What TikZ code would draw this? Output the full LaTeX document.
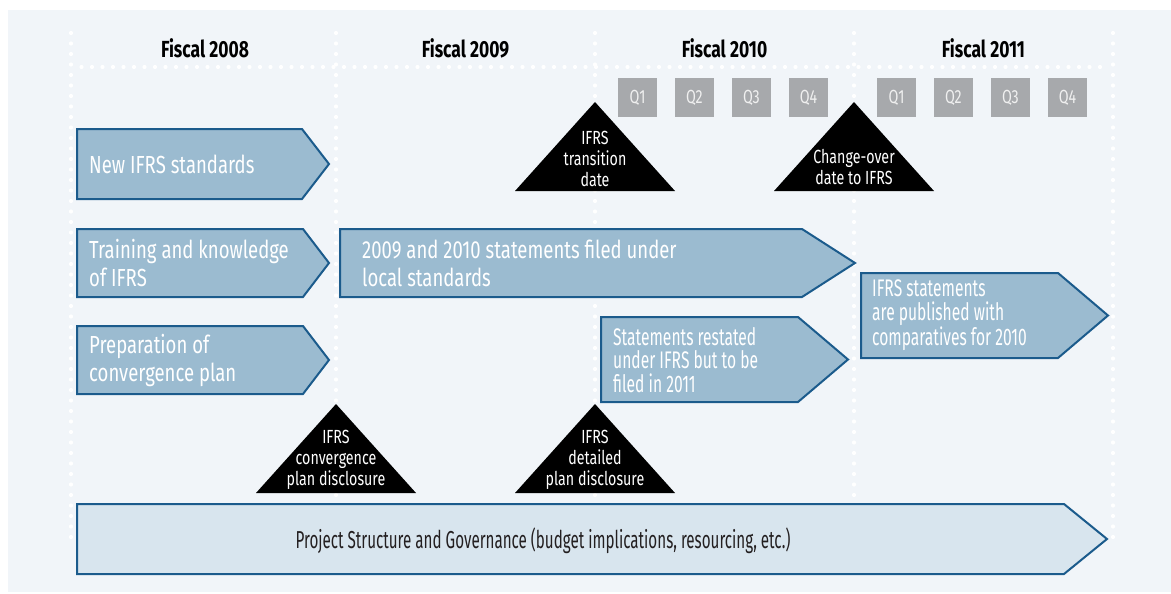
\documentclass[tikz,border=0pt]{standalone}
\usepackage{fontspec}
\setmainfont{Fira Sans}[FakeStretch=0.75]
\newfontfamily\narrowfont{Fira Sans}[FakeStretch=0.65]
\newfontfamily\slimfont{Fira Sans}[FakeStretch=0.62]
\usepackage{tikz}

\definecolor{panel}{HTML}{F1F5F9}
\definecolor{ifrsblue}{HTML}{9BBBD0}
\definecolor{ifrsline}{HTML}{1B5B8C}
\definecolor{govfill}{HTML}{D8E5EE}
\definecolor{qgray}{HTML}{A7A9AC}
\definecolor{darktext}{HTML}{231F20}

% pointed bar: left, top, right, bottom, depth of the point, fill
\newcommand{\pointbox}[6]{%
  \draw[plank, fill=#6] (#1,#2) -- (#3-#5,#2) -- (#3,{(#2+#4)/2})
    -- (#3-#5,#4) -- (#1,#4) -- cycle;}
% black milestone triangle hanging from its apex
\newcommand{\milestone}[2]{%
  \fill[black] (#1,#2) -- (#1+80,#2+89) -- (#1-80,#2+89) -- cycle;}

\begin{document}
\begin{tikzpicture}[x=1pt, y=-1pt,
                    line join=miter]
  \tikzstyle{plank}=[draw=ifrsline,
                     line width=2pt]
  \tikzstyle{boxtext}=[anchor=west,
                       align=left,
                       inner sep=0pt,
                       text=white,
                       font=\fontsize{24.7}{28}\selectfont]
  \tikzstyle{year}=[inner sep=0pt,
                    font=\bfseries\fontsize{23.3}{28}\selectfont]
  \tikzstyle{quarter}=[fill=qgray,
                       minimum size=39pt,
                       inner sep=0pt,
                       text=white!94!black,
                       font=\fontsize{19}{21}\selectfont]
  \tikzstyle{flag}=[align=center,
                    inner sep=0pt,
                    text=white,
                    font=\fontsize{19}{21}\selectfont]

  \useasboundingbox (0,0) rectangle (1171,594);
  \fill[white] (0,0) rectangle (1171,594);
  \fill[panel] (8,10) rectangle (1171,592);

  % dotted grid
  \foreach \x in {71,336,595,854,1113}
    \foreach \y in {33,43.5,...,538}
      \fill[white] (\x,\y) circle (2.1pt);
  \foreach \x in {81.5,92,...,1105}
    \fill[white] (\x,67) circle (2.1pt);

  % years and quarters
  \node[year] (fy08) at (205,48) {Fiscal 2008};
  \node[year] (fy09) at (465.5,48) {Fiscal 2009};
  \node[year] (fy10) at (724.5,48) {Fiscal 2010};
  \node[year] (fy11) at (983.5,48) {Fiscal 2011};
  \foreach \i in {1,...,4} {
    \node[quarter] (q10-\i) at (580.5+57*\i,97.5) {Q\i};
    \node[quarter] (q11-\i) at (839.5+57*\i,97.5) {Q\i};
  }

  % bars
  \pointbox{77}{129}{329}{199}{27}{ifrsblue}
  \pointbox{77}{229}{329}{297}{26}{ifrsblue}
  \pointbox{77}{326}{329}{394}{26}{ifrsblue}
  \pointbox{340}{229}{855}{297}{53}{ifrsblue}
  \pointbox{601}{317}{848}{402}{50}{ifrsblue}
  \pointbox{861}{273}{1108}{358}{50}{ifrsblue}
  \pointbox{77}{504}{1107}{574}{43}{govfill}

  \node[boxtext] (newstd) at (89,164) {New IFRS standards};
  \node[boxtext] (training) at (89,263) {Training and knowledge\\of IFRS};
  \node[boxtext] (prepplan) at (89,360) {Preparation of\\convergence plan};
  \node[boxtext] (localstd) at (362,263) {2009 and 2010 statements filed under\\local standards};
  \node[boxtext, font=\narrowfont\fontsize{24}{23.5}\selectfont] (restated) at (613,360)
    {Statements restated\\under IFRS but to be\\filed in 2011};
  \node[boxtext, font=\narrowfont\fontsize{24}{23.5}\selectfont] (published) at (872,315)
    {IFRS statements\\are published with\\comparatives for 2010};
  \node[inner sep=0pt, text=darktext, font=\slimfont\fontsize{24.5}{28}\selectfont] (governance)
    at (543,541) {Project Structure and Governance (budget implications, resourcing, etc.)};

  % milestones
  \milestone{595}{102}
  \milestone{854}{102}
  \milestone{336}{404}
  \milestone{595}{404}
  \node[flag] (transition) at (595,159) {IFRS\\transition\\date};
  \node[flag] (changeover) at (854,167) {Change-over\\date to IFRS};
  \node[flag] (convplan) at (336,460) {IFRS\\convergence\\plan disclosure};
  \node[flag] (detplan) at (595,460) {IFRS\\detailed\\plan disclosure};
\end{tikzpicture}
\end{document}
